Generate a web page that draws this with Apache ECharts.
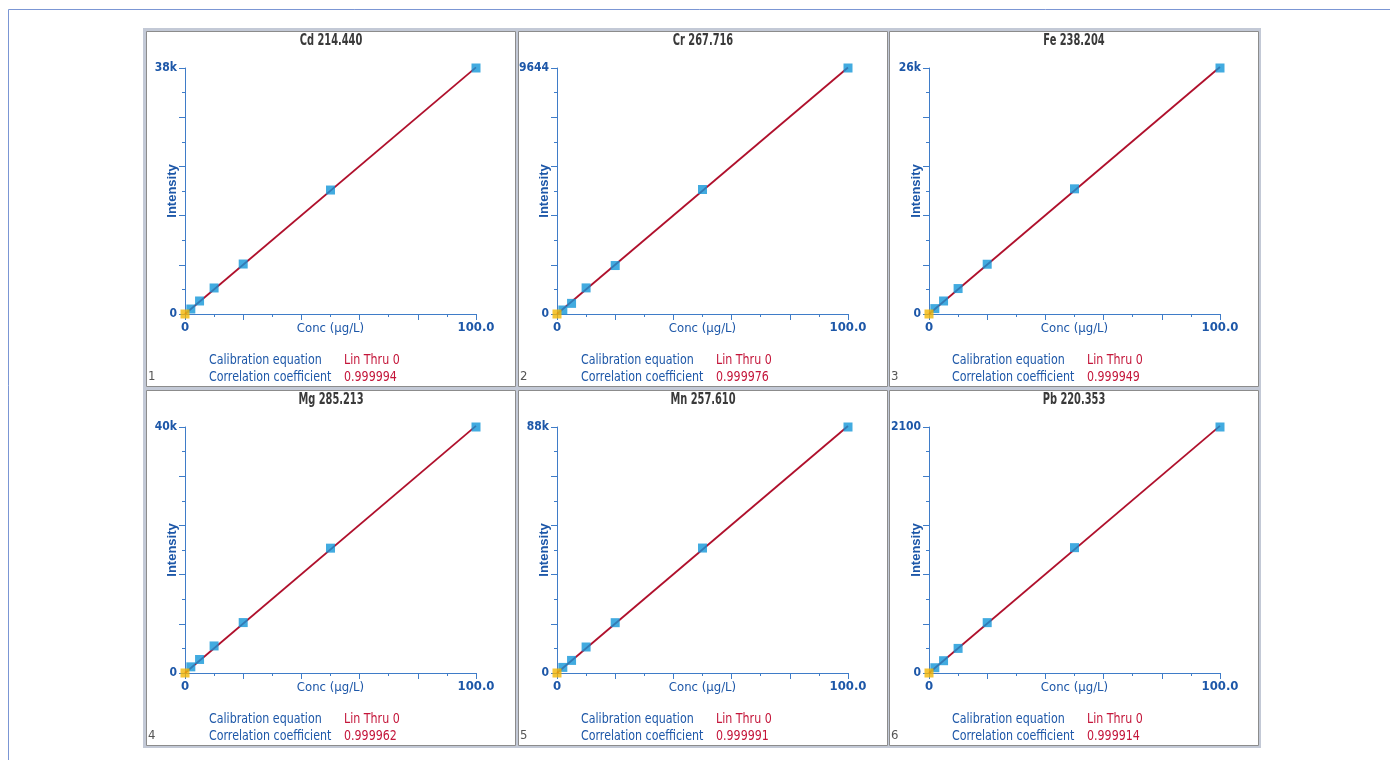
<!DOCTYPE html>
<html>
<head>
<meta charset="utf-8">
<script src="https://cdn.jsdelivr.net/npm/echarts@6/dist/echarts.min.js"></script>
<style>
html,body{margin:0;padding:0;background:#fff;}
#c{width:1390px;height:760px;}
</style>
</head>
<body>
<div id="c"></div>
<script>
// ---- data ----
const conc = [0, 2, 5, 10, 20, 50, 100];
const elements = ['Cd 214.440', 'Cr 267.716', 'Fe 238.204', 'Mg 285.213', 'Mn 257.610', 'Pb 220.353'];
const yMax = [38000, 9644, 26000, 40000, 88000, 2100];
const yMaxLabels = ['38k', '9644', '26k', '40k', '88k', '2100'];
const xTickLabels = ['0', '100.0'];
const cdIntensity = [0, 770, 2010, 4020, 7720, 19150, 38000];
const crIntensity = [0, 157, 417, 1023, 1900, 4880, 9644];
const feIntensity = [0, 570, 1375, 2690, 5260, 13230, 26000];
const mgIntensity = [0, 1000, 2200, 4400, 8200, 20300, 40000];
const mnIntensity = [0, 2000, 4500, 9300, 18000, 44700, 88000];
const pbIntensity = [0, 45, 105, 210, 430, 1070, 2100];
const calibEquation = ['Lin Thru 0', 'Lin Thru 0', 'Lin Thru 0', 'Lin Thru 0', 'Lin Thru 0', 'Lin Thru 0'];
const corrCoef = ['0.999994', '0.999976', '0.999949', '0.999962', '0.999991', '0.999914'];
const panelNumbers = ['1', '2', '3', '4', '5', '6'];
const intensities = [cdIntensity, crIntensity, feIntensity, mgIntensity, mnIntensity, pbIntensity];

// ---- layout ----
const FONT = "'Liberation Sans Narrow','DejaVu Sans Condensed','Arial Narrow',sans-serif";
const BLUE = '#1d57a8';
const AXIS = '#3f7cc8';
const RED = '#c4163a';
const LINE = '#b0102c';
const MARK = '#1396d8';
const YEL = '#f2b705';
const panelX = [146, 518, 889];
const panelY = [31, 390];
const panelW = 369, panelH = 355;
const gridLeft = [185, 557, 929];
const gridTop = [68, 427];
const gridW = 291, gridH = 246;
const SX = 0.88;   // horizontal squeeze for condensed look
const TSX = 0.73;

const grids = [], xAxes = [], yAxes = [], series = [];
const graphics = [];

graphics.push({type:'rect', z:-20, shape:{x:8.5, y:9.5, width:1400, height:800}, style:{fill:'none', stroke:'#7b96d4', lineWidth:1}});
graphics.push({type:'rect', z:-20, shape:{x:143, y:28, width:1118, height:720}, style:{fill:'#c3c9d6'}});

function txt(str, x, y, font, fill, align, sx) {
  return {type:'text', z:10, x:x, y:y, scaleX:sx, style:{text:str, x:0, y:0, font:font, fill:fill,
    textAlign:align, align:align, textVerticalAlign:'middle', verticalAlign:'middle'}};
}

for (let i = 0; i < 6; i++) {
  const c = i % 3, r = Math.floor(i / 3);
  const px = panelX[c], py = panelY[r];
  graphics.push({type:'rect', z:-10, shape:{x:px + 0.5, y:py + 0.5, width:panelW, height:panelH}, style:{fill:'#fff', stroke:'#8c8c8c', lineWidth:1}});
  graphics.push(txt(elements[i], px + 185, py + 10, 'bold 15px ' + FONT, '#3a3a3a', 'center', TSX));
  graphics.push(txt('Calibration equation', px + 63, py + 329, '14px ' + FONT, BLUE, 'left', SX));
  graphics.push(txt(calibEquation[i], px + 198, py + 329, '14px ' + FONT, RED, 'left', SX));
  graphics.push(txt('Correlation coefficient', px + 63, py + 346, '14px ' + FONT, BLUE, 'left', SX));
  graphics.push(txt(corrCoef[i], px + 198, py + 346, '14px ' + FONT, RED, 'left', SX));
  graphics.push(txt(panelNumbers[i], px + 2, py + 346, '13px ' + FONT, '#555', 'left', 1));

  grids.push({left:gridLeft[c], top:gridTop[r], width:gridW, height:gridH, containLabel:false});
  xAxes.push({
    type:'value', gridIndex:i, min:0, max:100, interval:20, z:5,
    name:'Conc (µg/L)', nameLocation:'middle', nameGap:8, nameMoveOverlap:false,
    nameTextStyle:{color:BLUE, fontFamily:FONT, fontSize:13, verticalAlign:'top'},
    axisLine:{show:true, lineStyle:{color:AXIS, width:1}},
    axisTick:{show:true, length:6, lineStyle:{color:AXIS}},
    minorTick:{show:true, splitNumber:2, length:3, lineStyle:{color:AXIS}},
    splitLine:{show:false},
    axisLabel:{show:true, margin:7, color:BLUE, fontFamily:FONT, fontSize:13, fontWeight:'bold',
      showMinLabel:true, showMaxLabel:true, hideOverlap:false,
      formatter:(v, idx) => v === 0 ? xTickLabels[0] : (v === 100 ? xTickLabels[1] : '')}
  });
  const ym = yMax[i];
  yAxes.push({
    type:'value', gridIndex:i, min:0, max:ym, interval:ym / 5, z:5,
    name:'Intensity', nameLocation:'middle', nameGap:6, nameRotate:90, nameMoveOverlap:false,
    nameTextStyle:{color:BLUE, fontFamily:"'Liberation Sans',Arial,sans-serif", fontSize:13, fontWeight:'bold'},
    axisLine:{show:true, lineStyle:{color:AXIS, width:1}},
    axisTick:{show:true, length:6, lineStyle:{color:AXIS}},
    minorTick:{show:true, splitNumber:2, length:3, lineStyle:{color:AXIS}},
    splitLine:{show:false},
    axisLabel:{show:true, margin:8, color:BLUE, fontFamily:FONT, fontSize:12, fontWeight:'bold',
      showMinLabel:true, showMaxLabel:true, hideOverlap:false, padding:[3, 0, 0, 0],
      formatter:(v, idx) => v === 0 ? '0' : (Math.abs(v - ym) < ym * 1e-6 ? yMaxLabels[i] : '')}
  });

  const ys = intensities[i];
  // least-squares slope through origin
  let sxy = 0, sxx = 0;
  for (let k = 0; k < conc.length; k++) { sxy += conc[k] * ys[k]; sxx += conc[k] * conc[k]; }
  const slope = sxy / sxx;
  series.push({type:'line', xAxisIndex:i, yAxisIndex:i, data:[[0, 0], [100, slope * 100]], symbol:'none', lineStyle:{color:LINE, width:1.8}, z:20, silent:true, clip:false});
  series.push({type:'scatter', xAxisIndex:i, yAxisIndex:i, data:conc.slice(1).map((x, k) => [x, ys[k + 1]]), symbol:'rect', symbolSize:9, itemStyle:{color:MARK}, z:21, clip:false, silent:true});
  series.push({type:'scatter', xAxisIndex:i, yAxisIndex:i, data:[[conc[0], ys[0]]], symbol:'rect', symbolSize:9, itemStyle:{color:YEL}, z:22, clip:false, silent:true});
}

const chart = echarts.init(document.getElementById('c'), null, {renderer:'canvas'});
chart.setOption({
  backgroundColor:'#fff',
  animation:false,
  graphic:{elements:graphics},
  grid:grids, xAxis:xAxes, yAxis:yAxes, series:series
});
</script>
</body>
</html>
